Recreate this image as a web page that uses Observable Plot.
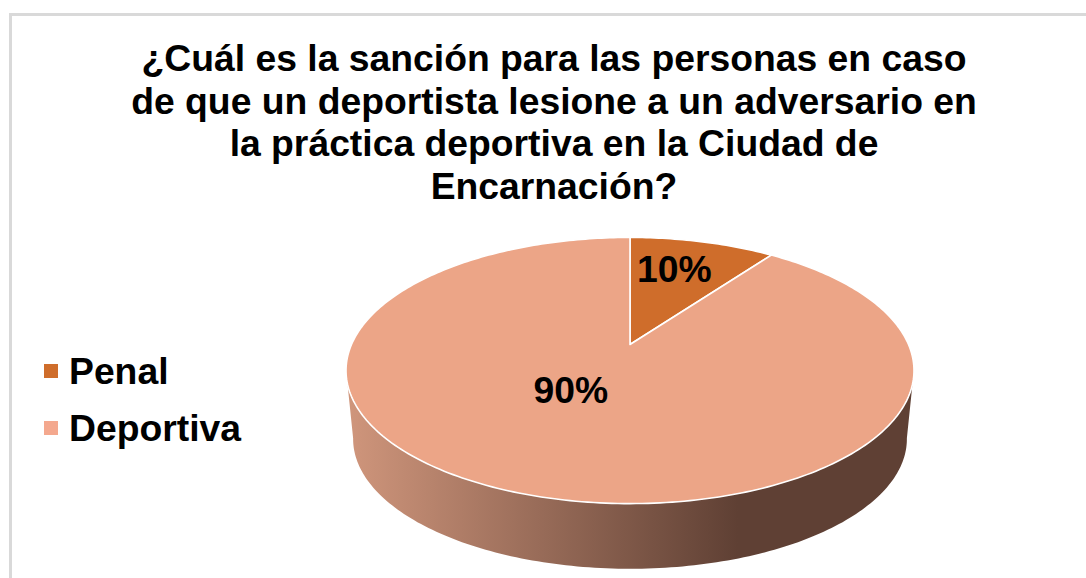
<!DOCTYPE html>
<html lang="es">
<head>
<meta charset="utf-8">
<script src="https://cdn.jsdelivr.net/npm/d3@7"></script>
<script src="https://cdn.jsdelivr.net/npm/@observablehq/plot@0.6"></script>
<style>
  html, body { margin: 0; padding: 0; background: #fff; }
  #chart { position: relative; width: 1086px; height: 578px; overflow: hidden; font-family: "Liberation Sans", Arial, sans-serif; color: #000; }
  #frame { position: absolute; left: 9px; top: 13px; width: 1086px; height: 578px; border-left: 3px solid #d9d9d9; border-top: 3px solid #d9d9d9; }
  #title { position: absolute; left: 100px; width: 908px; top: 37px; text-align: center; font-weight: 700; font-size: 37.3px; line-height: 42.7px; }
  #title div { white-space: nowrap; }
  .key { position: absolute; left: 44px; font-weight: 700; font-size: 37.3px; line-height: 40px; white-space: nowrap; }
  .key i { position: absolute; left: 0; top: 13px; width: 14px; height: 14px; }
  .key span { position: absolute; left: 25px; top: 0; }
  #chart svg { position: absolute; left: 0; top: 0; }
</style>
</head>
<body>
<div id="chart">
  <div id="frame"></div>
</div>
<script>
const titleLines = [
  "¿Cuál es la sanción para las personas en caso",
  "de que un deportista lesione a un adversario en",
  "la práctica deportiva en la Ciudad de",
  "Encarnación?"
];
const categories = ["Penal", "Deportiva"];
const values = [10, 90];
const labels = ["10%", "90%"];
const sliceColors = ["#cf6d2b", "#eca587"];
const legendColors = ["#cf6d2b", "#f4a88e"];

// label placement on the pie, in degrees clockwise from the top and fraction of the radius
const labelAngles = [15.4, 210];
const labelRadii = [0.676, 0.396];

// 3D tilt of the pie: a circle seen in perspective
const tilt = 0.1955;
const wallScale = 0.975;
const wallDrop = -0.54;
const rad = Math.PI / 180;
const project = (deg, r = 1) => {
  const u = r * Math.sin(deg * rad), v = r * Math.cos(deg * rad);
  const w = 1 + tilt * v;
  return {x: u / w, y: v / w};
};
const arc = (from, to, step = 1) => d3.range(from, to, step).concat(to).map((a) => project(a));

const total = d3.sum(values);
let start = 0;
const slices = categories.flatMap((name, i) => {
  const end = start + values[i] / total * 360;
  const pts = [{x: 0, y: 0}, ...arc(start, end), {x: 0, y: 0}].map((p) => ({...p, name}));
  start = end;
  return pts;
});

const wallFrom = 101, wallTo = 259;
const wall = [
  ...arc(wallFrom, wallTo),
  ...arc(wallFrom, wallTo).reverse().map((p) => ({x: p.x * wallScale, y: p.y * wallScale + wallDrop}))
];

const textData = labels.map((text, i) => ({text, ...project(labelAngles[i], labelRadii[i])}));

const plot = Plot.plot({
  width: 1086,
  height: 578,
  margin: 0,
  axis: null,
  x: {domain: [-1, 1], range: [351, 908]},
  y: {domain: [-1, 1], range: [472, 216]},
  color: {domain: categories, range: sliceColors},
  marks: [
    Plot.line(wall, {x: "x", y: "y", fill: "url(#wallShade)", stroke: "none", curve: "linear"}),
    Plot.line(slices, {x: "x", y: "y", fill: "name", stroke: "#fff", strokeWidth: 1.6, strokeLinejoin: "round", curve: "linear"}),
    Plot.text(textData, {x: "x", y: "y", text: "text", fontSize: 37.3, fontWeight: 700, fill: "#000", fontFamily: "Liberation Sans, Arial, sans-serif"})
  ]
});

const ns = "http://www.w3.org/2000/svg";
const defs = document.createElementNS(ns, "defs");
defs.innerHTML = `<linearGradient id="wallShade" x1="0" x2="1" y1="0" y2="0">
  <stop offset="0" stop-color="#d0967c"/>
  <stop offset="0.69" stop-color="#5f4034"/>
  <stop offset="1" stop-color="#5f4034"/>
</linearGradient>`;
plot.insertBefore(defs, plot.firstChild);

const chart = document.getElementById("chart");
chart.appendChild(plot);

const title = document.createElement("div");
title.id = "title";
titleLines.forEach((line) => {
  const d = document.createElement("div");
  d.textContent = line;
  title.appendChild(d);
});
chart.appendChild(title);

const legendTops = [351, 408];
categories.forEach((name, i) => {
  const k = document.createElement("div");
  k.className = "key";
  k.style.top = legendTops[i] + "px";
  const sw = document.createElement("i");
  sw.style.background = legendColors[i];
  const s = document.createElement("span");
  s.textContent = name;
  k.append(sw, s);
  chart.appendChild(k);
});
</script>
</body>
</html>
